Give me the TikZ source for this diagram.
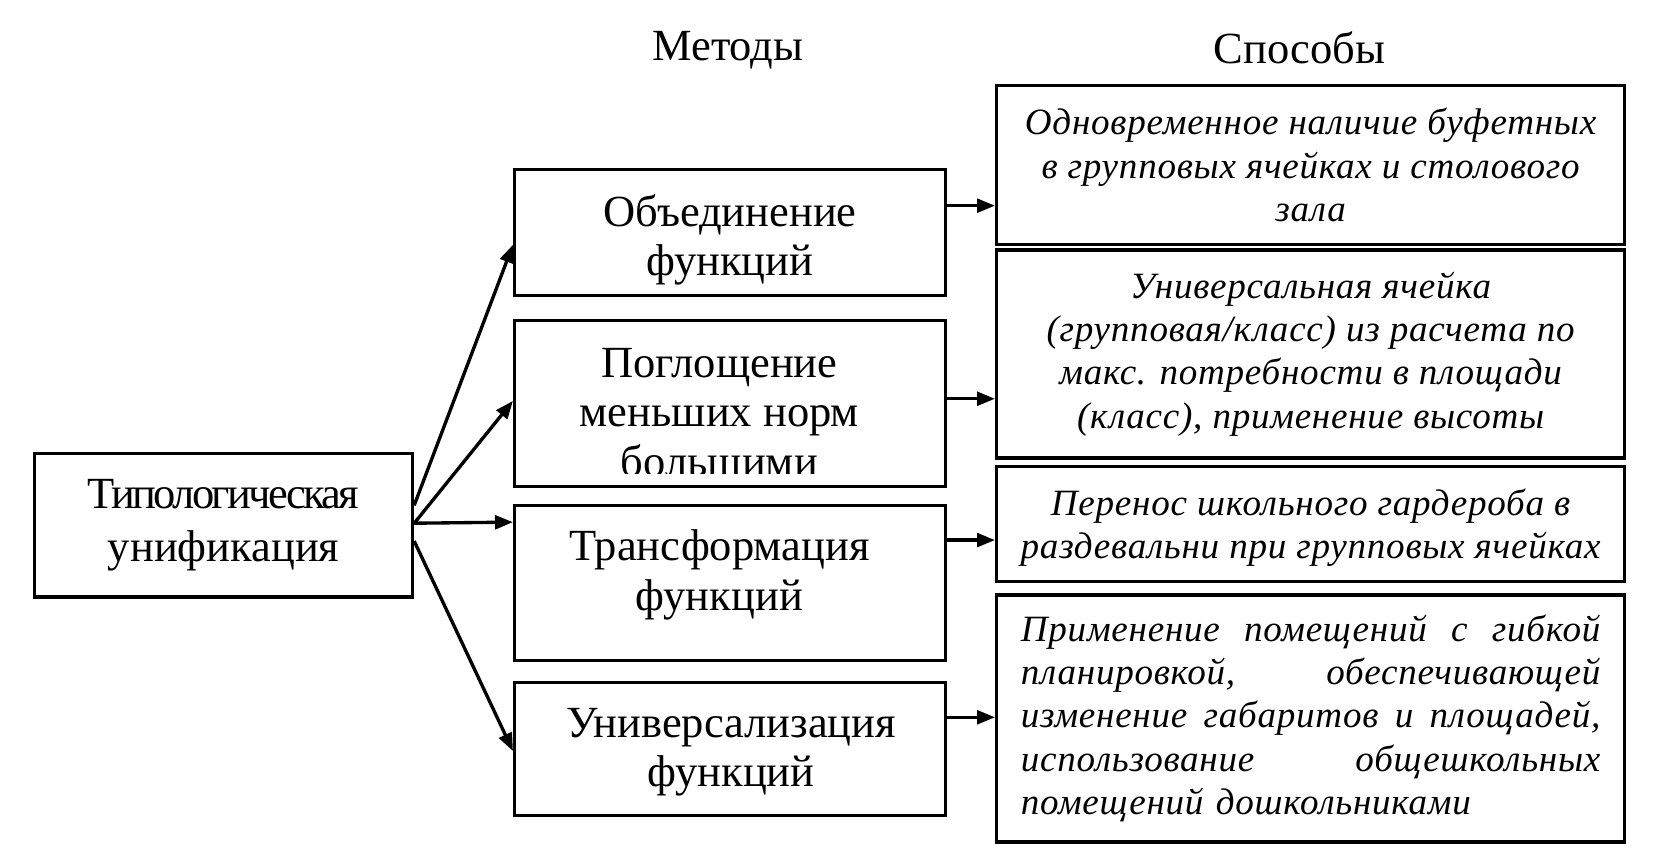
\documentclass[tikz,border=0pt]{standalone}
\usepackage{fontspec}
\setmainfont{Liberation Serif}
\newfontfamily\wayfont{Liberation Serif}[LetterSpace=2]
\newfontfamily\narrowrm{Liberation Serif}[LetterSpace=-6]
\usetikzlibrary{arrows.meta}
\tikzset{
  box/.style={draw, line width=0.9pt, inner sep=0pt, align=center},
  methodtext/.style={align=center, font=\fontsize{12}{13.4}\selectfont},
  waytext/.style={align=center, font=\wayfont\itshape\fontsize{10}{11.7}\selectfont},
  arr/.style={line width=0.9pt, -{Triangle[length=0.17cm,width=0.13cm]}}
}
\begin{document}
\begin{tikzpicture}[x=0.01cm, y=-0.01cm]
  \useasboundingbox (0,0) rectangle (1568,817);
  % headers
  \node[methodtext] (methods) at (690,48) {Методы};
  \node[methodtext] (ways) at (1232,45) {Способы};
  % root
  \node[box, minimum width=3.58cm, minimum height=1.36cm,
    font=\fontsize{12}{14.2}\selectfont] (typ) at (212,498)
    {{\narrowrm Типологическая}\\унификация};
  % methods
  \node[box, minimum width=4.08cm, minimum height=1.19cm] (m1) at (692,220.5) {};
  \node[methodtext] (m1text) at (692,227.5) {Объединение\\функций};
  \node[box, minimum width=4.08cm, minimum height=1.57cm] (m2) at (692,382.5) {};
  \begin{scope}
    \clip (m2.north west) rectangle ([yshift=0.14cm]m2.south east);
    \node[methodtext] (m2text) at (682,391) {Поглощение\\меньших норм\\большими};
  \end{scope}
  \node[box, minimum width=4.08cm, minimum height=1.47cm] (m3) at (692,552.5) {};
  \node[methodtext] (m3text) at (682,545) {Трансформация\\функций};
  \node[box, minimum width=4.08cm, minimum height=1.26cm] (m4) at (692,710) {};
  \node[methodtext] (m4text) at (693,713) {Универсализация\\функций};
  % ways
  \node[box, waytext, minimum width=5.95cm, minimum height=1.51cm] (r1)
    at (1242.5,156.5) {Одновременное наличие буфетных\\в групповых ячейках и столового\\зала};
  \node[box, waytext, minimum width=5.95cm, minimum height=1.97cm] (r2)
    at (1242.5,335.5) {Универсальная ячейка\\(групповая/класс) из расчета по\\макс. потребности в площади\\(класс), применение высоты};
  \node[box, minimum width=5.95cm, minimum height=1.09cm] (r3) at (1242.5,496.5) {};
  \node[waytext] (r3text) at (1242.5,500.5)
    {Перенос школьного гардероба в\\раздевальни при групповых ячейках};
  \node[box, waytext, align=left, text width=5.49cm, minimum width=5.95cm,
    minimum height=2.34cm] (r4) at (1242.5,681)
    {Применение\hfill помещений\hfill с\hfill гибкой\\
     планировкой,\hfill обеспечивающей\\
     изменение\hfill габаритов\hfill и\hfill площадей,\\
     использование\hfill общешкольных\\
     помещений дошкольниками};
  % arrows
  \begin{scope}[arr]
    \draw ([yshift=0.19cm]typ.east) -- ([yshift=-0.115cm]m1.west);
    \draw ([yshift=0.02cm]typ.east) -- ([yshift=0.025cm]m2.west);
    \draw ([yshift=0.02cm]typ.east) -- ([yshift=0.575cm]m3.west);
    \draw ([yshift=-0.15cm]typ.east) -- ([yshift=-0.02cm]m4.west);
    \draw ([yshift=0.255cm]m1.east) coordinate (a1) -- (a1 -| r1.west);
    \draw ([yshift=0.045cm]m2.east) coordinate (a2) -- (a2 -| r2.west);
    \draw ([yshift=0.405cm]m3.east) coordinate (a3) -- (a3 -| r3.west);
    \draw ([yshift=0.3cm]m4.east) coordinate (a4) -- (a4 -| r4.west);
  \end{scope}
\end{tikzpicture}
\end{document}
